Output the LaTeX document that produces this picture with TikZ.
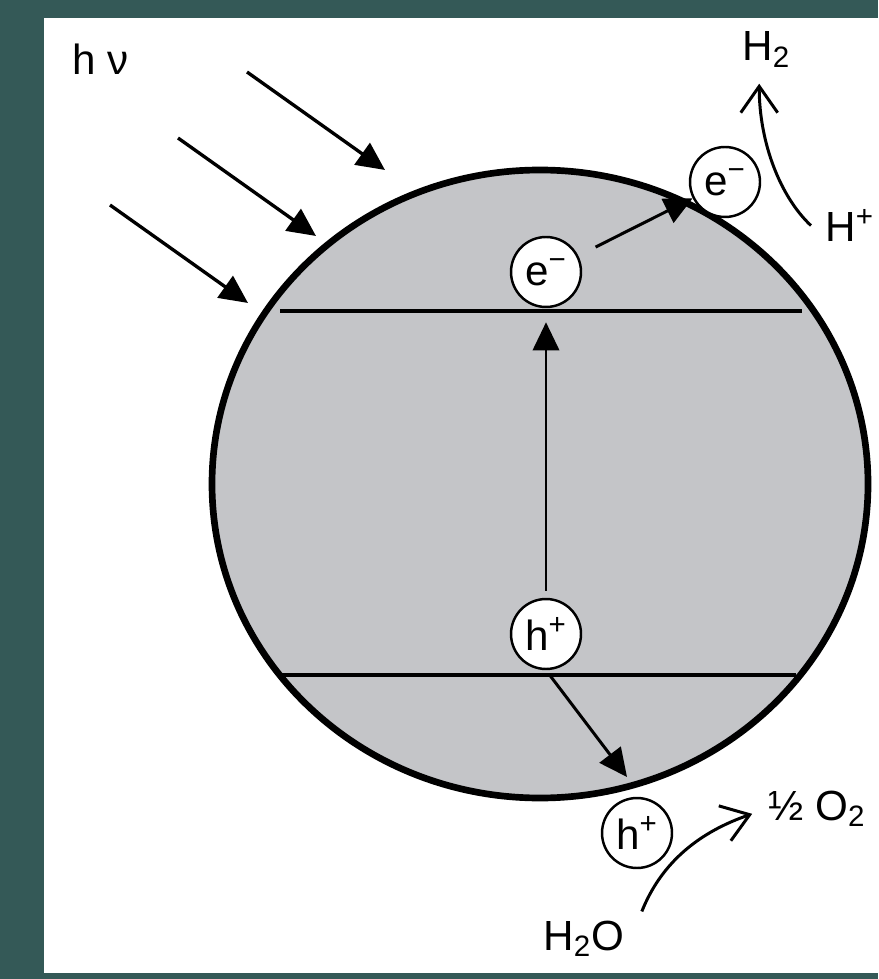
\documentclass[tikz,border=0pt]{standalone}
\usepackage{fontspec}
\setmainfont{Liberation Sans}
\usetikzlibrary{arrows.meta}
\definecolor{slate}{RGB}{52,89,87}
\definecolor{particle}{RGB}{196,197,200}

\begin{document}
\begin{tikzpicture}[x=0.02cm, y=-0.02cm,
	every node/.style={font=\fontsize{24}{28}\selectfont},
	txt/.style={anchor=base west, inner sep=0pt},
	carrier/.style={circle, draw, fill=white, line width=1.4pt, minimum size=1.4cm, inner sep=0pt},
	>={Triangle[length=16pt, width=15pt]},
	barb/.style={-{Straight Barb[length=15pt, width=21pt]}, line width=1.7pt}]
	\useasboundingbox (0,0) rectangle (878,979);
	\fill[slate] (0,0) rectangle (878,979);
	\fill[white] (44,18) rectangle (878,973);
	% particle with the two band edges
	\filldraw[fill=particle, line width=3.8pt] (540,484) ellipse [x radius=328, y radius=314];
	\draw[line width=2.3pt] (280,311) -- (802,311);
	\draw[line width=2.3pt] (280,675) -- (796,675);
	% incoming light
	\node[txt] (hnu) at (72,75) {h ν};
	\foreach \sx/\sy in {247/72, 178/138, 110/205}
		\draw[->, line width=1.9pt] (\sx,\sy) -- ++(138,98);
	% charge carriers
	\node[carrier] (eband) at (546,272) {e\textsuperscript{−}};
	\node[carrier] (hband) at (546,634) {h\textsuperscript{+}};
	\node[carrier] (esurf) at (725,182) {e\textsuperscript{−}};
	\node[carrier] (hsurf) at (637,833) {h\textsuperscript{+}};
	\coordinate (hrim) at (627,777);
	\draw[->, line width=1.5pt, shorten <=4pt, shorten >=8pt] (hband) -- (eband);
	\draw[->, line width=1.7pt, shorten <=11pt] (eband) -- (esurf);
	\draw[->, line width=1.7pt, shorten <=3pt] (hband.south) -- (hrim);
	% surface reactions
	\node[txt] (htwo) at (742,61) {H\textsubscript{2}};
	\node[txt] (hplus) at (825,242) {H\textsuperscript{+}};
	\node[txt] (otwo) at (768,820) {½ O\textsubscript{2}};
	\node[txt] (water) at (543,950) {H\textsubscript{2}O};
	\draw[barb] ([xshift=-8pt]hplus.west) .. controls +(-30,-28) and +(0,60) .. ([xshift=-4pt, yshift=-9pt]htwo.south);
	\draw[barb] ([xshift=10pt, yshift=5pt]water.north east) .. controls +(20,-50) and +(-52,18) .. ([xshift=-9pt, yshift=-3pt]otwo.west);
\end{tikzpicture}
\end{document}
